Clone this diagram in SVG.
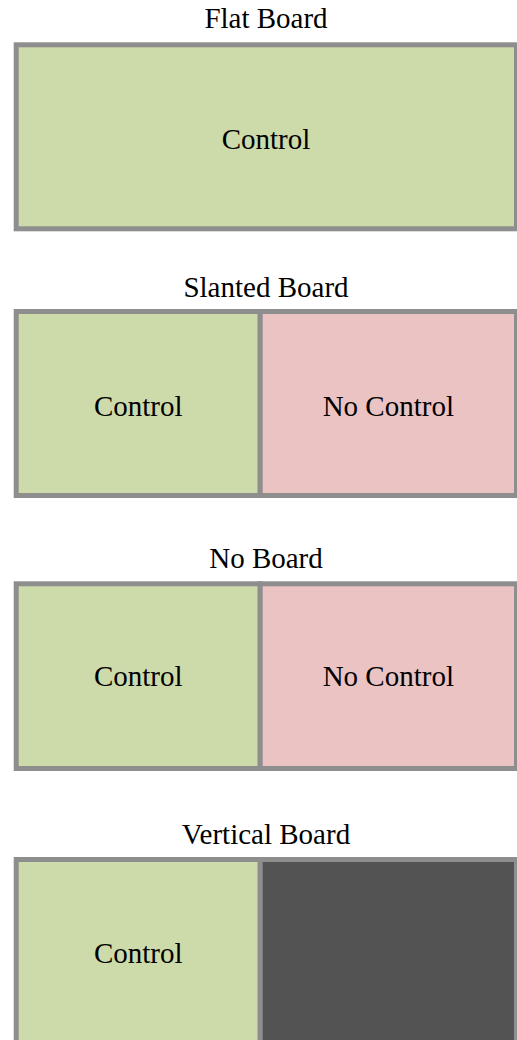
<svg xmlns="http://www.w3.org/2000/svg" width="517" height="1040" viewBox="0 0 517 1040">
<style>
.t{font-family:"Liberation Serif","Times New Roman",serif;font-size:29px;fill:#000;text-anchor:middle}
.c{stroke:#8E8E8E;stroke-width:5}
.g{fill:#CDDBAB}
.p{fill:#ECC3C3}
.d{fill:#535353}
</style>
<rect width="517" height="1040" fill="#fff"/>
<g id="flat">
<text class="t" x="266" y="28">Flat Board</text>
<rect class="g c" x="16.2" y="44.8" width="500.3" height="184"/>
<text class="t" x="266" y="148.5">Control</text>
</g>
<g id="slanted">
<text class="t" x="266" y="296.5">Slanted Board</text>
<rect class="g c" x="16.2" y="311.5" width="244" height="184"/>
<rect class="p c" x="260.2" y="311.5" width="256.3" height="184"/>
<text class="t" x="138.2" y="415.5">Control</text>
<text class="t" x="388.3" y="415.5">No Control</text>
</g>
<g id="noboard">
<text class="t" x="266" y="567.5">No Board</text>
<rect class="g c" x="16.2" y="583.8" width="244" height="184.7"/>
<rect class="p c" x="260.2" y="583.8" width="256.3" height="184.7"/>
<text class="t" x="138.2" y="686">Control</text>
<text class="t" x="388.3" y="686">No Control</text>
</g>
<g id="vertical">
<text class="t" x="266" y="843.5">Vertical Board</text>
<rect class="g c" x="16.2" y="859.5" width="244" height="184"/>
<rect class="d c" x="260.2" y="859.5" width="256.3" height="184"/>
<text class="t" x="138.2" y="962.5">Control</text>
</g>
<g id="connectors"></g>
</svg>
